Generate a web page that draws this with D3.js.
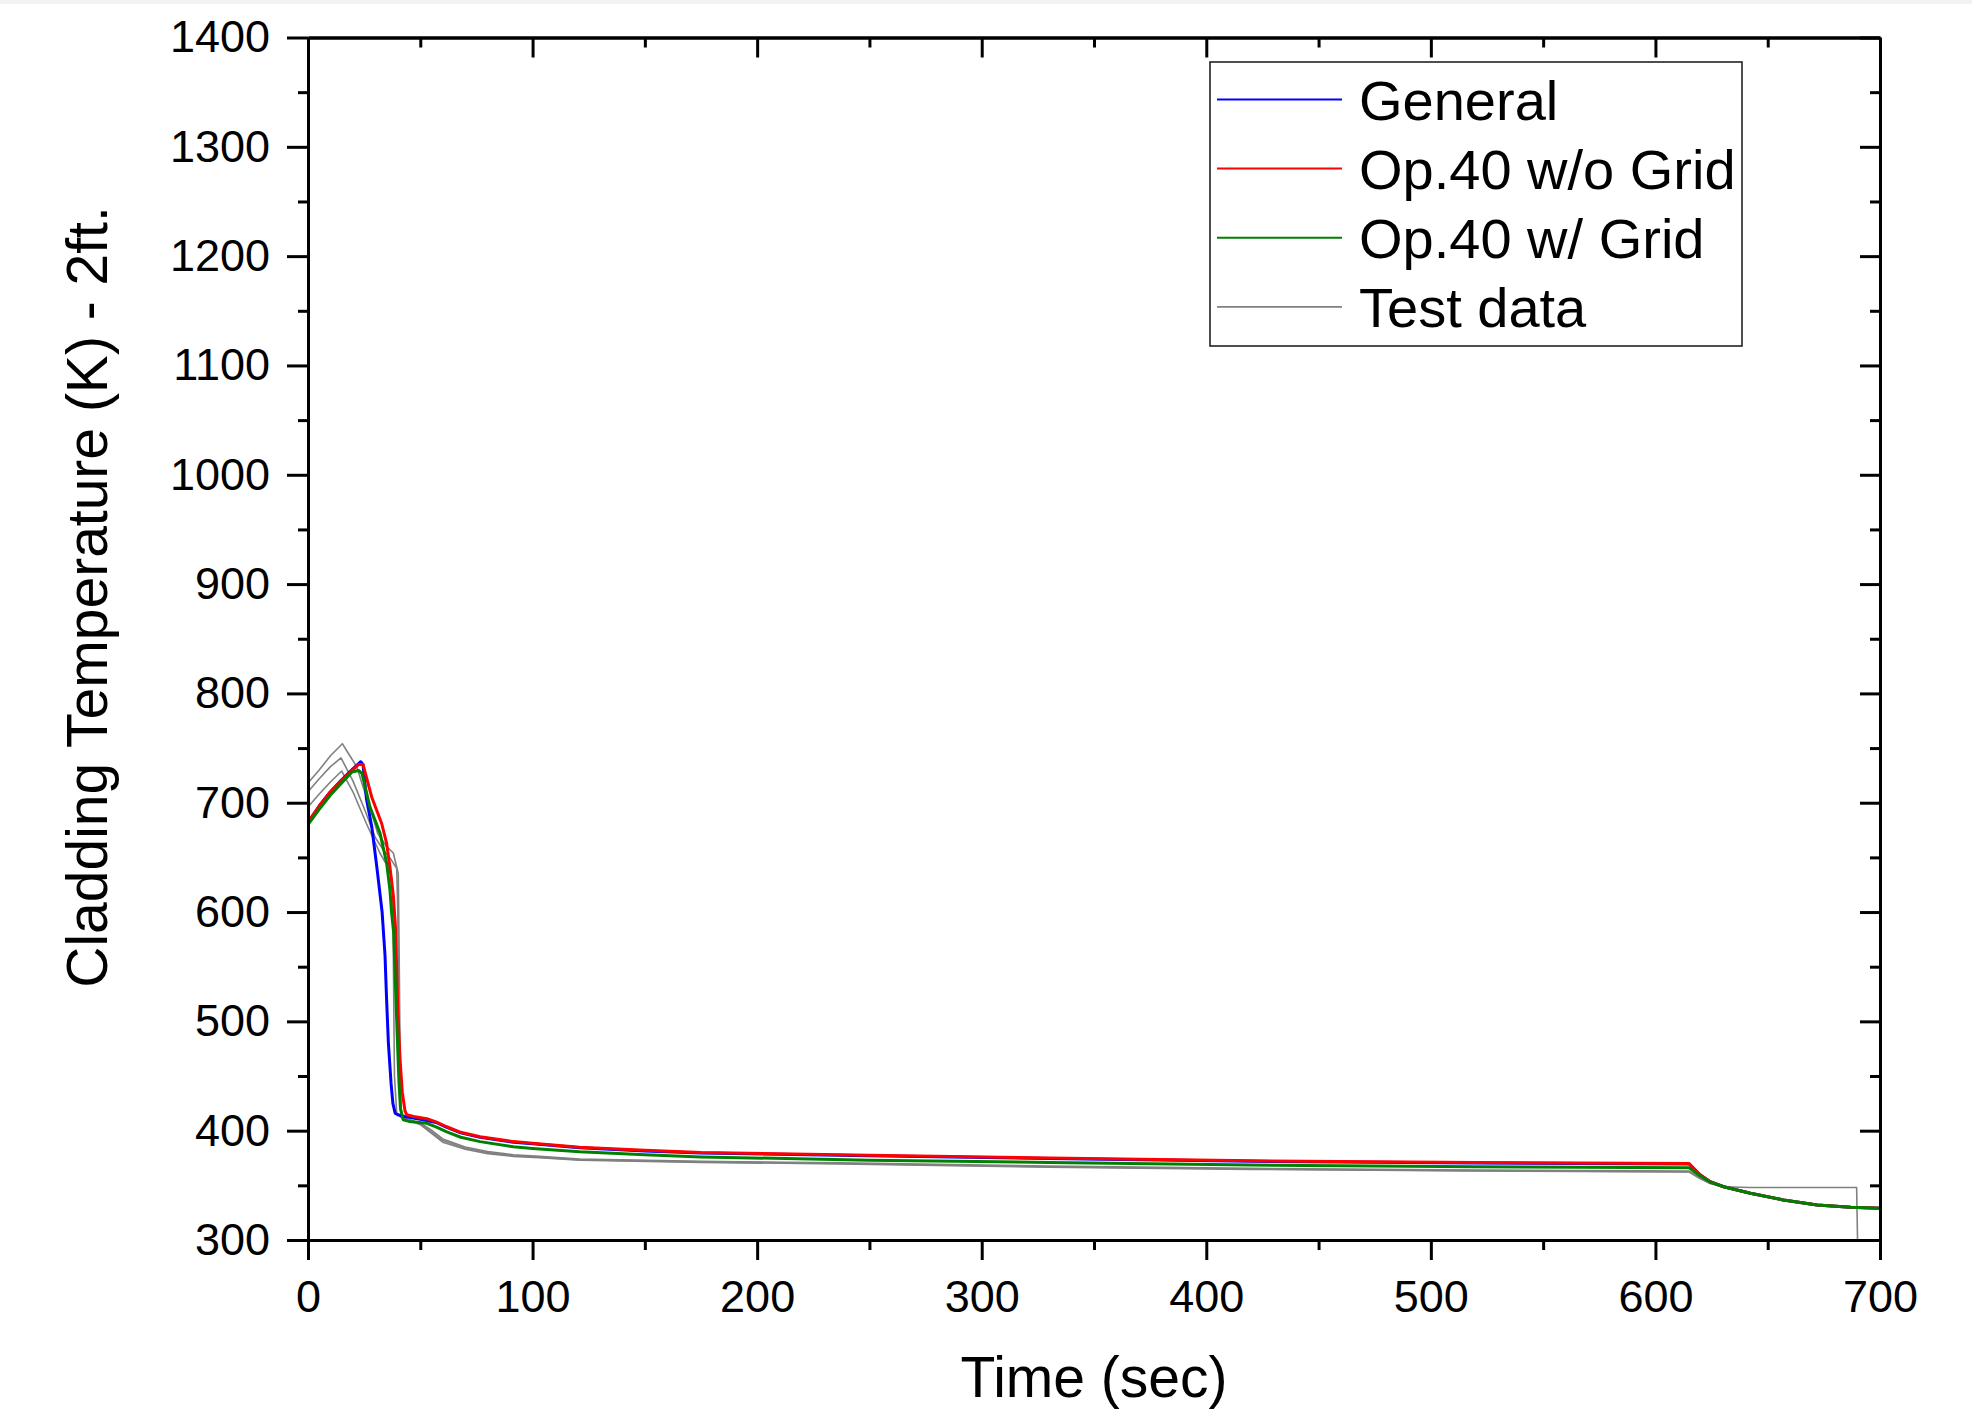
<!DOCTYPE html>
<html>
<head>
<meta charset="utf-8">
<script src="https://cdn.jsdelivr.net/npm/d3@7"></script>
<style>
  html, body { margin: 0; padding: 0; background: #fff; }
  svg { display: block; }
  text { font-family: "Liberation Sans", Arial, Helvetica, sans-serif; fill: #000; }
</style>
</head>
<body>
<svg id="chart" width="1972" height="1421"></svg>
<script>
// ---------------- DATA ----------------
const xTicks = [0, 100, 200, 300, 400, 500, 600, 700];
const yTicks = [300, 400, 500, 600, 700, 800, 900, 1000, 1100, 1200, 1300, 1400];
const xLabel = "Time (sec)";
const yLabel = "Cladding Temperature (K) - 2ft.";
const seriesNames = ["General", "Op.40 w/o Grid", "Op.40 w/ Grid", "Test data"];

const generalT = [0, 5, 10, 15, 20, 23.5, 24.5, 26, 28.4, 30.6, 33, 34.3, 35, 35.8, 37, 37.8, 38.8, 40, 43, 50, 57, 61.8, 68, 76.6, 91.4, 100, 121, 150, 175, 250, 330, 420, 520, 615, 620, 624.4, 630.4, 642.3, 657, 672, 687, 700];
const generalV = [682, 697, 710, 721, 731, 737.5, 735, 704, 678, 642, 600, 560, 520, 480, 443, 425, 416, 414.5, 413, 410.5, 407.5, 403, 398, 394, 389.5, 388, 384.3, 381.5, 379.5, 377, 374.5, 372, 370.5, 369.5, 359.5, 353.3, 348.7, 342.7, 336.6, 332, 330, 329];

const noGridT = [0, 5, 10, 15, 20, 22.5, 24.5, 28.4, 32.8, 35, 36.5, 38, 39, 40, 41, 42, 43.2, 44, 47, 52.9, 57, 61.8, 68, 76.6, 91.4, 100, 121, 150, 175, 250, 330, 420, 520, 615, 620, 624.4, 630.4, 642.3, 657, 672, 687, 700];
const noGridV = [682, 697, 710, 720.5, 730, 735, 735, 705, 681, 663, 641, 615, 585, 510, 465, 435, 418, 414.5, 413, 411, 408, 403.6, 398.5, 394.5, 390, 388.5, 384.8, 382, 380, 377.5, 375, 372.5, 371, 370, 359.5, 353.3, 348.7, 342.7, 336.6, 332, 330, 329];

const gridT = [0, 5, 10, 15, 19.5, 22.5, 24, 27.6, 32.1, 35, 36.5, 37.2, 38.2, 39, 39.7, 40.5, 41.2, 42.4, 45, 52.9, 57, 61.8, 68, 76.6, 91.4, 100, 121, 150, 175, 250, 330, 420, 520, 615, 620, 624.4, 630.4, 642.3, 657, 672, 687, 700];
const gridV = [680, 694, 707, 718, 728, 729.5, 727, 696, 672, 645, 620, 600, 580, 530, 489, 445, 420, 410, 408.5, 406.7, 403.5, 399, 394, 390, 385.3, 383.8, 380.7, 378, 376, 373, 371, 368.6, 367, 366, 358.5, 353, 348.7, 342.7, 336.6, 332, 330, 329];

const test1T = [0, 5, 10, 15.3, 18, 21.7, 24.6, 27.6, 31, 35, 38, 40.2, 40.6, 41, 41.5, 42, 45, 50, 55, 60, 70, 80, 91.4, 103, 121, 175, 237, 330, 420, 520, 615, 620, 624.4, 630.4, 642, 689.6, 690];
const test1V = [718, 730, 743, 754, 745, 733, 714, 696, 672, 660, 654, 635, 560, 470, 418, 412, 410, 406.5, 399, 391, 384, 380, 377, 375.8, 373.5, 371.5, 370, 367, 365, 363.5, 362.5, 356.4, 351.9, 348.7, 348, 348, 300];

const test2T = [0, 5, 10, 14.7, 20, 25, 30, 33.5, 37, 39.5, 40, 40.5, 41, 42, 45, 50, 55, 60, 70, 80, 91.4, 103, 121, 175, 237, 330, 420, 520, 615, 620, 624.4, 630.4];
const test2V = [710, 722, 733, 741, 720, 695, 668, 657, 648, 640, 600, 470, 420, 412, 410, 407, 400.5, 392.5, 385, 381, 378, 376.5, 374, 372, 370.6, 367.6, 365.5, 364, 363, 356.8, 352.2, 348.9];

const test3T = [0, 5, 10, 15, 20, 26, 32, 36, 37.5, 38, 38.5, 39.5, 42, 45, 50, 55, 60, 70, 80, 91.4, 103, 121, 175, 237, 330, 420, 520, 615, 620, 624.4, 630.4];
const test3V = [696, 708, 719, 729, 710, 681, 654, 640, 630, 560, 450, 416, 411, 409.5, 405.5, 397.5, 389.5, 383, 379, 376.5, 375.2, 373, 371, 369.6, 366.6, 364.6, 363.2, 362.2, 356, 351.6, 348.5];

const colors = ["#0000ff", "#ff0000", "#008000", "#808080"];

// ---------------- CHART ----------------
const svg = d3.select("#chart");
svg.append("rect").attr("x", 0).attr("y", 0).attr("width", 1972).attr("height", 4).attr("fill", "#f2f2f2");

const x = d3.scaleLinear().domain([0, 700]).range([308, 1880]);
const y = d3.scaleLinear().domain([300, 1400]).range([1240, 37.5]);

const line = d3.line().x(d => x(d[0])).y(d => y(d[1]));
const zip = (t, v) => t.map((d, i) => [d, v[i]]);

const plot = svg.append("g");
const tests = [[test1T, test1V], [test2T, test2V], [test3T, test3V]];
tests.forEach(([t, v]) => {
  plot.append("path").datum(zip(t, v)).attr("d", line)
    .attr("fill", "none").attr("stroke", colors[3]).attr("stroke-width", 1.6)
    .attr("stroke-linejoin", "round");
});
[[generalT, generalV, colors[0]], [noGridT, noGridV, colors[1]], [gridT, gridV, colors[2]]].forEach(([t, v, c]) => {
  plot.append("path").datum(zip(t, v)).attr("d", line)
    .attr("fill", "none").attr("stroke", c).attr("stroke-width", 3)
    .attr("stroke-linejoin", "round");
});

// axes
const minorX = d3.range(0, 701, 50).filter(d => d % 100 !== 0);
const minorY = d3.range(300, 1401, 50).filter(d => d % 100 !== 0);

function styleAxis(g) {
  g.selectAll("path.domain").attr("stroke", "#000").attr("stroke-width", 3);
  g.selectAll(".tick line").attr("stroke", "#000").attr("stroke-width", 3);
  g.selectAll(".tick text").style("font-size", "45px").attr("fill", "#000")
    .style("font-family", "'Liberation Sans', Arial, sans-serif");
}

// bottom
svg.append("g").attr("transform", `translate(0,${y(300)})`)
  .call(d3.axisBottom(x).tickValues(minorX).tickSize(10).tickSizeOuter(0).tickFormat(""))
  .call(styleAxis);
svg.append("g").attr("transform", `translate(0,${y(300)})`)
  .call(d3.axisBottom(x).tickValues(xTicks).tickSize(20).tickSizeOuter(0).tickPadding(20).tickFormat(d3.format("d")))
  .call(styleAxis);
// left
svg.append("g").attr("transform", `translate(${x(0)},0)`)
  .call(d3.axisLeft(y).tickValues(minorY).tickSize(10).tickSizeOuter(0).tickFormat(""))
  .call(styleAxis);
svg.append("g").attr("transform", `translate(${x(0)},0)`)
  .call(d3.axisLeft(y).tickValues(yTicks).tickSize(21).tickSizeOuter(0).tickPadding(17).tickFormat(d3.format("d")))
  .call(styleAxis);
// top (inward ticks)
svg.append("g").attr("transform", `translate(0,${y(1400)})`)
  .call(d3.axisTop(x).tickValues(minorX).tickSize(-10).tickSizeOuter(0).tickFormat(""))
  .call(styleAxis);
svg.append("g").attr("transform", `translate(0,${y(1400)})`)
  .call(d3.axisTop(x).tickValues(xTicks).tickSize(-20).tickSizeOuter(0).tickFormat(""))
  .call(styleAxis);
// right (inward ticks)
svg.append("g").attr("transform", `translate(${x(700)},0)`)
  .call(d3.axisRight(y).tickValues(minorY).tickSize(-10).tickSizeOuter(0).tickFormat(""))
  .call(styleAxis);
svg.append("g").attr("transform", `translate(${x(700)},0)`)
  .call(d3.axisRight(y).tickValues(yTicks).tickSize(-20).tickSizeOuter(0).tickFormat(""))
  .call(styleAxis);

// axis titles
svg.append("text").attr("x", 1094).attr("y", 1397).attr("text-anchor", "middle")
  .style("font-size", "57px").text(xLabel);
svg.append("text").attr("transform", "translate(107,597) rotate(-90)").attr("text-anchor", "middle")
  .style("font-size", "57px").text(yLabel);

// legend
const lg = svg.append("g");
lg.append("rect").attr("x", 1210).attr("y", 62).attr("width", 532).attr("height", 284)
  .attr("fill", "#fff").attr("stroke", "#222").attr("stroke-width", 1.6);
const rowY = [99.5, 168.5, 237.7, 306.9];
seriesNames.forEach((n, i) => {
  lg.append("line").attr("x1", 1217).attr("x2", 1342).attr("y1", rowY[i]).attr("y2", rowY[i])
    .attr("stroke", colors[i]).attr("stroke-width", i === 3 ? 1.6 : 2);
  lg.append("text").attr("x", 1359).attr("y", rowY[i] + 20)
    .style("font-size", "56px").text(n);
});
</script>
</body>
</html>
